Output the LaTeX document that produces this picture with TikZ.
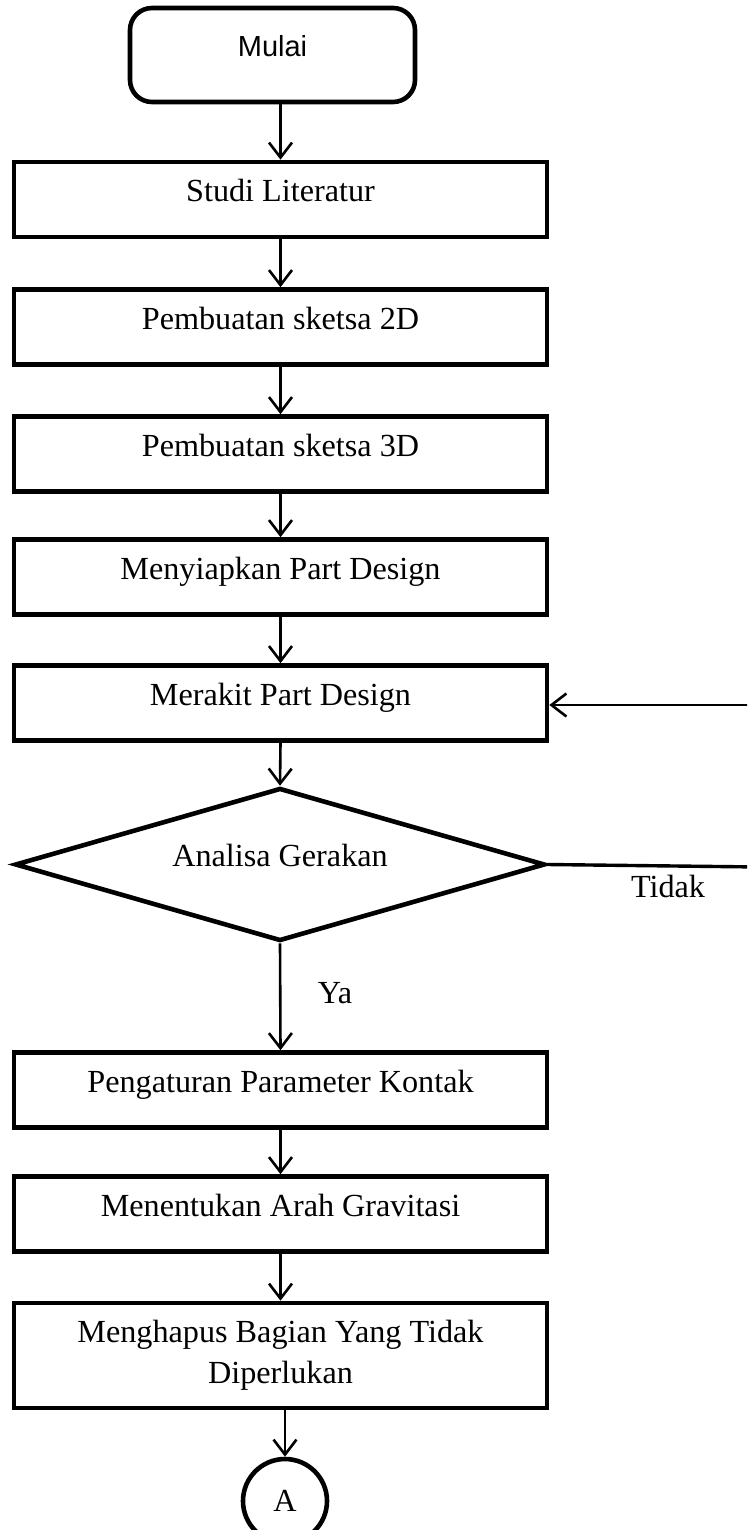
\documentclass[tikz,border=0pt]{standalone}
\usepackage{fontspec}
\setmainfont{Liberation Serif}
\newfontfamily\mysansf{Liberation Sans}
\usetikzlibrary{shapes.geometric,arrows.meta}
\newcommand\myserifsize{\fontsize{32.2}{41}\selectfont}
\begin{document}
\begin{tikzpicture}[x=1pt,y=-1pt,
  box/.style={draw,line width=4.6pt,minimum width=533pt,minimum height=75pt,inner sep=0pt,font=\myserifsize,align=center},
  one/.style={text height=20pt,text depth=15pt},
  arr/.style={line width=2.6pt,-{Straight Barb[length=15pt,width=23pt]}},
  lbl/.style={font=\myserifsize,anchor=base,inner sep=0pt},
]
\clip (0,0) rectangle (747,1530);
\node[draw,line width=4.6pt,rounded corners=22pt,minimum width=285pt,minimum height=94pt,inner sep=0pt,
      font=\mysansf\fontsize{29}{35}\selectfont,text height=20pt,text depth=16pt] (mulai) at (272.5,55) {Mulai};
\node[box,one] (studi) at (280.5,199.5) {Studi Literatur};
\node[box,one] (sk2) at (280.5,327) {Pembuatan sketsa 2D};
\node[box,one] (sk3) at (280.5,454) {Pembuatan sketsa 3D};
\node[box,one] (siap) at (280.5,577) {Menyiapkan Part Design};
\node[box,one] (rakit) at (280.5,703) {Merakit Part Design};
\node[draw,line width=4.6pt,shape=diamond,aspect=3.5,minimum width=530pt,minimum height=153pt,inner sep=0pt,
      font=\myserifsize,text height=20pt,text depth=16pt] (dia) at (280,864.5) {Analisa Gerakan};
\node[box,one] (atur) at (280.5,1090) {Pengaturan Parameter Kontak};
\node[box,one] (arah) at (280.5,1214) {Menentukan Arah Gravitasi};
\node[box,minimum height=105pt] (hapus) at (280.5,1355.5) {Menghapus Bagian Yang Tidak\\Diperlukan};
\node[draw,circle,line width=4.6pt,minimum size=84pt,inner sep=0pt,font=\myserifsize] (conA) at (285,1501) {A};
\node[lbl] (ya) at (335,1003) {Ya};
\node[lbl] (tidak) at (668,897) {Tidak};
\coordinate (rA) at (760,867);
\coordinate (rB) at (760,705);
\draw[arr] (mulai.south -| studi.north) -- (studi.north);
\draw[arr] (studi.south) -- (sk2.north);
\draw[arr] (sk2.south) -- (sk3.north);
\draw[arr] (sk3.south) -- (siap.north);
\draw[arr] (siap.south) -- (rakit.north);
\draw[arr] (rakit.south) -- (dia.north);
\draw[arr] (dia.south) -- (atur.north);
\draw[arr] (atur.south) -- (arah.north);
\draw[arr] (arah.south) -- (hapus.north);
\draw[arr] (conA.north |- hapus.south) -- (conA.north);
\draw[line width=3.4pt] (dia.east) -- (rA);
\draw[arr] (rB) -- (rB -| rakit.east);
\end{tikzpicture}
\end{document}
